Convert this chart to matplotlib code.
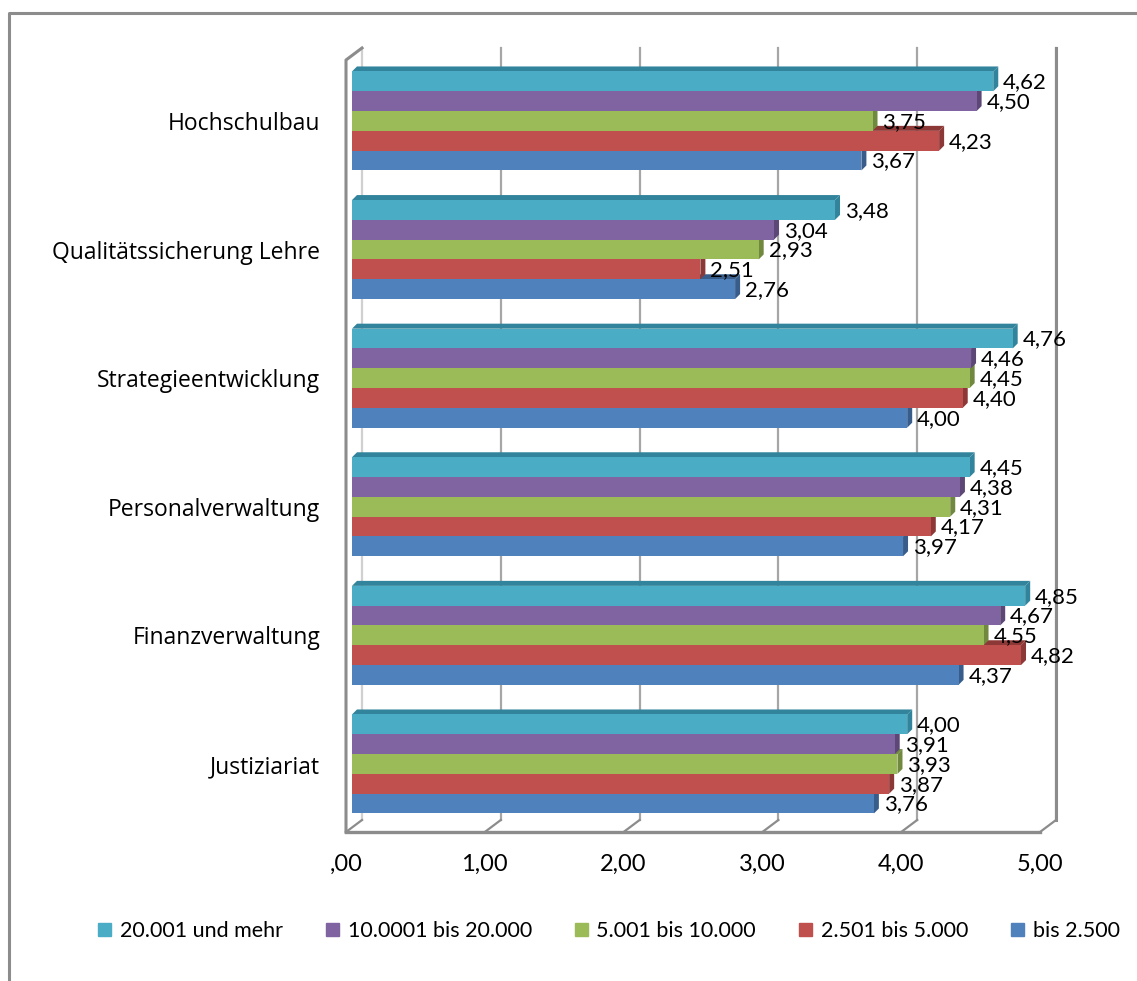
import matplotlib
matplotlib.use('Agg')
import matplotlib.pyplot as plt
import matplotlib.transforms as mtransforms
from matplotlib.patches import Polygon, Patch
from matplotlib.lines import Line2D

plt.rcParams['font.family'] = ['Lato', 'DejaVu Sans']

# data (categories listed bottom to top as drawn)
categories = ['Justiziariat', 'Finanzverwaltung', 'Personalverwaltung',
              'Strategieentwicklung', 'Qualitätssicherung Lehre', 'Hochschulbau']
series = ['bis 2.500', '2.501 bis 5.000', '5.001 bis 10.000',
          '10.0001 bis 20.000', '20.001 und mehr']
bis_2500 = [3.76, 4.37, 3.97, 4.00, 2.76, 3.67]
bis_5000 = [3.87, 4.82, 4.17, 4.40, 2.51, 4.23]
bis_10000 = [3.93, 4.55, 4.31, 4.45, 2.93, 3.75]
bis_20000 = [3.91, 4.67, 4.38, 4.46, 3.04, 4.50]
ab_20001 = [4.00, 4.85, 4.45, 4.76, 3.48, 4.62]
values = [bis_2500, bis_5000, bis_10000, bis_20000, ab_20001]
x_ticks = [0, 1, 2, 3, 4, 5]
x_labels = [',00', '1,00', '2,00', '3,00', '4,00', '5,00']

colors = ['#4F81BD', '#C0504D', '#9BBB59', '#8064A2', '#4BACC6']
dark = ['#385D8A', '#8C3836', '#71893F', '#5C4776', '#31849B']

W, H = 1137, 981
fig = plt.figure(figsize=(W / 100, H / 100), dpi=100)
# front plane of the 3d box: x 346..1040 px, y 60..832 px
ax = fig.add_axes([346 / W, (H - 832) / H, (1040 - 346) / W, (832 - 60) / H])
ax.set_xlim(0, 5)
ax.set_ylim(-0.529, 5.474)
ax.set_facecolor('none')
for s in ax.spines.values():
    s.set_visible(False)

px_x = (1040 - 346) / 5.0
px_y = (832 - 60) / (5.474 + 0.529)

back = mtransforms.offset_copy(ax.transData, fig, x=16, y=12, units='dots')
bar_tr = mtransforms.offset_copy(ax.transData, fig, x=6, y=0, units='dots')

# walls and floor
wall = '#8C8C8C'
y0, y1 = ax.get_ylim()
for v in x_ticks:
    c = '#D0D0D0' if v == 0 else '#A6A6A6'
    ax.plot([v, v], [y0, y1], color=c, lw=1.6, transform=back, clip_on=False, zorder=1)
    ax.plot([v, v + 16 / px_x], [y0, y0 + 12 / px_y], color=wall, lw=1.6,
            clip_on=False, zorder=1)
ax.plot([5, 5], [y0, y1], color=wall, lw=2.2, transform=back, clip_on=False, zorder=1)
ax.plot([0, 5], [y0, y0], color=wall, lw=2.4, clip_on=False, zorder=2)
ax.plot([0, 0, 16 / px_x], [y0, y1, y1 + 12 / px_y], color=wall, lw=2.2,
        clip_on=False, zorder=2)

# bars with small 3d faces
h = 19.8 / px_y
dx, dy = 5 / px_x, 5 / px_y
for j, vals in enumerate(values):
    ys = [i + (j - 2) * h for i in range(len(categories))]
    z = 3 + j
    for y, v in zip(ys, vals):
        b, t = y - h / 2, y + h / 2
        ax.add_patch(Polygon([(0, t), (dx, t + dy), (v + dx, t + dy), (v, t)],
                             closed=True, fc=dark[j], ec='none', transform=bar_tr, zorder=z))
        ax.add_patch(Polygon([(v, b), (v + dx, b + dy), (v + dx, t + dy), (v, t)],
                             closed=True, fc=dark[j], ec='none', transform=bar_tr, zorder=z))
    ax.barh(ys, vals, height=h, color=colors[j], transform=bar_tr, zorder=z + 0.5)
    for y, v in zip(ys, vals):
        ax.annotate(f'{v:.2f}'.replace('.', ','), xy=(v, y), xycoords=bar_tr,
                    xytext=(10, -1), textcoords='offset pixels', ha='left', va='center',
                    fontsize=16, color='black', zorder=20)

ax.set_yticks(range(len(categories)))
ax.set_yticklabels(categories, fontsize=16.5, family=['Open Sans', 'DejaVu Sans'])
ax.set_xticks(x_ticks)
ax.set_xticklabels(x_labels, fontsize=17)
ax.tick_params(axis='y', length=0, pad=18.5)
ax.tick_params(axis='x', length=0, pad=16)

# outer chart border
fig.add_artist(Line2D([9 / W, 9 / W, 1.0], [0, 1 - 13 / H, 1 - 13 / H],
                      color='#8C8C8C', lw=2.2, transform=fig.transFigure))

handles = [Patch(color=colors[j], label=series[j]) for j in range(4, -1, -1)]
fig.legend(handles=handles, loc='center', bbox_to_anchor=(609 / W, 1 - 931 / H),
           ncol=5, frameon=False, fontsize=15.5, handlelength=0.6, handleheight=0.6,
           handletextpad=0.4, columnspacing=2.0)

fig.savefig('out.png', dpi=100)
